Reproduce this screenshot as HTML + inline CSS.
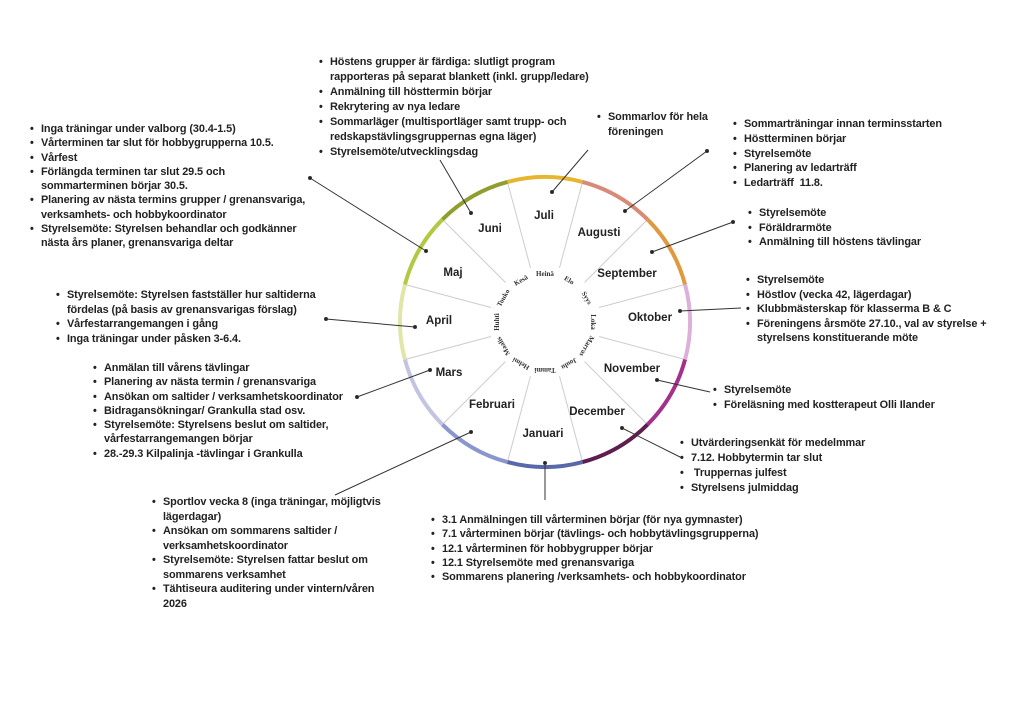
<!DOCTYPE html>
<html><head><meta charset="utf-8"><style>
html,body{margin:0;padding:0;background:#fff;}
body{width:1024px;height:722px;position:relative;overflow:hidden;font-family:"Liberation Sans",sans-serif;}
.l{position:absolute;font-weight:bold;font-size:10.9px;color:#222;white-space:nowrap;line-height:14.6px;letter-spacing:-0.1px}
.l div{position:relative;padding-left:11px}
.l div.b::before{content:"•";position:absolute;left:0;top:0}
svg{position:absolute;left:0;top:0}
</style></head><body>
<svg width="1024" height="722" viewBox="0 0 1024 722">
<g id="wheel"></g>
<g stroke="#333" stroke-width="1" fill="#222">
<line x1="440" y1="160" x2="471" y2="213"/><circle cx="471" cy="213" r="1.5"/>
<line x1="588" y1="150" x2="552" y2="192"/><circle cx="552" cy="192" r="1.5"/>
<line x1="707" y1="151" x2="625" y2="211"/><circle cx="625" cy="211" r="1.5"/><circle cx="707" cy="151" r="1.5"/>
<line x1="733" y1="222" x2="652" y2="252"/><circle cx="652" cy="252" r="1.5"/><circle cx="733" cy="222" r="1.5"/>
<line x1="741" y1="308" x2="680" y2="311"/><circle cx="680" cy="311" r="1.5"/>
<line x1="657" y1="380" x2="710" y2="392"/><circle cx="657" cy="380" r="1.5"/>
<line x1="622" y1="428" x2="682" y2="458"/><circle cx="622" cy="428" r="1.5"/>
<line x1="545" y1="463" x2="545" y2="500"/><circle cx="545" cy="463" r="1.5"/>
<line x1="471" y1="432" x2="335" y2="495"/><circle cx="471" cy="432" r="1.5"/>
<line x1="357" y1="397" x2="430" y2="370"/><circle cx="357" cy="397" r="1.5"/><circle cx="430" cy="370" r="1.5"/>
<line x1="326" y1="319" x2="415" y2="327"/><circle cx="326" cy="319" r="1.5"/><circle cx="415" cy="327" r="1.5"/>
<line x1="310" y1="178" x2="426" y2="251"/><circle cx="310" cy="178" r="1.5"/><circle cx="426" cy="251" r="1.5"/>
</g>
</svg>
<script>
(function(){
var cx=545,cy=322,R=145,ri=56,g=document.getElementById('wheel'),ns='http://www.w3.org/2000/svg';
function el(t,a,txt){var e=document.createElementNS(ns,t);for(var k in a)e.setAttribute(k,a[k]);if(txt)e.textContent=txt;g.appendChild(e);return e;}
function pt(deg,r){var a=(deg-90)*Math.PI/180;return [cx+r*Math.cos(a),cy+r*Math.sin(a)];}
el('circle',{cx:cx,cy:cy,r:R,fill:'#fff',stroke:'#ddd','stroke-width':1});
for(var i=0;i<12;i++){var a=pt(15+30*i,ri),b=pt(15+30*i,R);el('line',{x1:a[0],y1:a[1],x2:b[0],y2:b[1],stroke:'#ccc','stroke-width':1});}
var cols=['#e6b630','#d88a78','#df9a40','#dcb0d8','#a3308a','#5e1e50','#5868a8','#8a96cc','#c2c4e2','#dfe6a8','#b3c944','#8f9e2e'];
for(var i=0;i<12;i++){var a=pt(-15+30*i,R),b=pt(15+30*i,R);el('path',{d:'M'+a[0]+' '+a[1]+' A'+R+' '+R+' 0 0 1 '+b[0]+' '+b[1],fill:'none',stroke:cols[i],'stroke-width':4});}
var fin=['Heinä','Elo','Syys','Loka','Marras','Joulu','Tammi','Helmi','Maalis','Huhti','Touko','Kesä'];
for(var i=0;i<12;i++){el('text',{x:cx,y:cy-46,'text-anchor':'middle','font-family':'Liberation Serif, serif','font-weight':'bold','font-size':7,fill:'#333',transform:'rotate('+(30*i)+' '+cx+' '+cy+')'},fin[i]);}
var m=[['Juli',544,215],['Augusti',599,232],['September',627,273],['Oktober',650,317],['November',632,368],['December',597,411],['Januari',543,433],['Februari',492,404],['Mars',449,372],['April',439,320],['Maj',453,272],['Juni',490,228]];
m.forEach(function(x){el('text',{x:x[1],y:x[2]+4,'text-anchor':'middle','font-family':'Liberation Sans, sans-serif','font-weight':'bold','font-size':11.5,fill:'#222'},x[0]);});
})();
</script>
<div class="l" style="left:319px;top:55px;line-height:15px"><div class="b">Höstens grupper är färdiga: slutligt program</div><div>rapporteras på separat blankett (inkl. grupp/ledare)</div><div class="b">Anmälning till hösttermin börjar</div><div class="b">Rekrytering av nya ledare</div><div class="b">Sommarläger (multisportläger samt trupp- och</div><div>redskapstävlingsgruppernas egna läger)</div><div class="b">Styrelsemöte/utvecklingsdag</div></div>
<div class="l" style="left:597px;top:110px;line-height:15px"><div class="b">Sommarlov för hela</div><div>föreningen</div></div>
<div class="l" style="left:30px;top:122px;line-height:14.3px"><div class="b">Inga träningar under valborg (30.4-1.5)</div><div class="b">Vårterminen tar slut för hobbygrupperna 10.5.</div><div class="b">Vårfest</div><div class="b">Förlängda terminen tar slut 29.5 och</div><div>sommarterminen börjar 30.5.</div><div class="b">Planering av nästa termins grupper / grenansvariga,</div><div>verksamhets- och hobbykoordinator</div><div class="b">Styrelsemöte: Styrelsen behandlar och godkänner</div><div>nästa års planer, grenansvariga deltar</div></div>
<div class="l" style="left:733px;top:117px;line-height:14.75px"><div class="b">Sommarträningar innan terminsstarten</div><div class="b">Höstterminen börjar</div><div class="b">Styrelsemöte</div><div class="b">Planering av ledarträff</div><div class="b">Ledarträff&nbsp; 11.8.</div></div>
<div class="l" style="left:748px;top:206px"><div class="b">Styrelsemöte</div><div class="b">Föräldrarmöte</div><div class="b">Anmälning till höstens tävlingar</div></div>
<div class="l" style="left:746px;top:273px"><div class="b">Styrelsemöte</div><div class="b">Höstlov (vecka 42, lägerdagar)</div><div class="b">Klubbmästerskap för klasserma B &amp; C</div><div class="b">Föreningens årsmöte 27.10., val av styrelse +</div><div>styrelsens konstituerande möte</div></div>
<div class="l" style="left:56px;top:288px"><div class="b">Styrelsemöte: Styrelsen fastställer hur saltiderna</div><div>fördelas (på basis av grenansvarigas förslag)</div><div class="b">Vårfestarrangemangen i gång</div><div class="b">Inga träningar under påsken 3-6.4.</div></div>
<div class="l" style="left:93px;top:361px;line-height:14.3px"><div class="b">Anmälan till vårens tävlingar</div><div class="b">Planering av nästa termin / grenansvariga</div><div class="b">Ansökan om saltider / verksamhetskoordinator</div><div class="b">Bidragansökningar/ Grankulla stad osv.</div><div class="b">Styrelsemöte: Styrelsens beslut om saltider,</div><div>vårfestarrangemangen börjar</div><div class="b">28.-29.3 Kilpalinja -tävlingar i Grankulla</div></div>
<div class="l" style="left:713px;top:383px;line-height:15px"><div class="b">Styrelsemöte</div><div class="b">Föreläsning med kostterapeut Olli Ilander</div></div>
<div class="l" style="left:680px;top:436px;line-height:15px"><div class="b">Utvärderingsenkät för medelmmar</div><div class="b">7.12. Hobbytermin tar slut</div><div class="b">&nbsp;Truppernas julfest</div><div class="b">Styrelsens julmiddag</div></div>
<div class="l" style="left:431px;top:513px;line-height:14.3px"><div class="b">3.1 Anmälningen till vårterminen börjar (för nya gymnaster)</div><div class="b">7.1 vårterminen börjar (tävlings- och hobbytävlingsgrupperna)</div><div class="b">12.1 vårterminen för hobbygrupper börjar</div><div class="b">12.1 Styrelsemöte med grenansvariga</div><div class="b">Sommarens planering /verksamhets- och hobbykoordinator</div></div>
<div class="l" style="left:152px;top:495px;line-height:14.5px"><div class="b">Sportlov vecka 8 (inga träningar, möjligtvis</div><div>lägerdagar)</div><div class="b">Ansökan om sommarens saltider /</div><div>verksamhetskoordinator</div><div class="b">Styrelsemöte: Styrelsen fattar beslut om</div><div>sommarens verksamhet</div><div class="b">Tähtiseura auditering under vintern/våren</div><div>2026</div></div>
</body></html>
